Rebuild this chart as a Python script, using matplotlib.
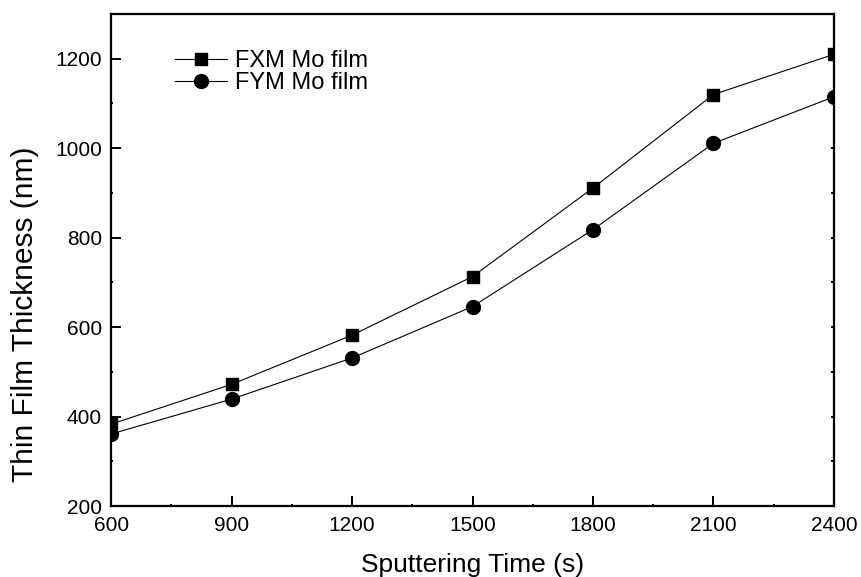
import matplotlib
matplotlib.use('Agg')
import matplotlib.pyplot as plt
from matplotlib.ticker import MultipleLocator

plt.rcParams['font.family'] = ['Liberation Sans', 'DejaVu Sans']

sputter_time = [600, 900, 1200, 1500, 1800, 2100, 2400]
fxm_thickness = [383, 472, 582, 713, 911, 1120, 1210]
fym_thickness = [361, 439, 531, 646, 818, 1011, 1115]

fig = plt.figure(figsize=(8.61, 5.77), dpi=100)
ax = fig.add_axes([0.129, 0.123, 0.8396, 0.8527])

ax.plot(sputter_time, fxm_thickness, color='black', lw=0.8, marker='s', ms=9,
        label='FXM Mo film')
ax.plot(sputter_time, fym_thickness, color='black', lw=0.8, marker='o', ms=10,
        label='FYM Mo film')

ax.set_xlim(600, 2400)
ax.set_ylim(200, 1300)
ax.xaxis.set_major_locator(MultipleLocator(300))
ax.xaxis.set_minor_locator(MultipleLocator(150))
ax.yaxis.set_major_locator(MultipleLocator(200))
ax.yaxis.set_minor_locator(MultipleLocator(100))

# inward ticks on left/bottom, only tiny marks on the right
ax.tick_params(which='both', direction='in', labelsize=15, width=1.4, top=False)
ax.tick_params(which='major', length=7.2)
ax.tick_params(which='minor', length=1.5)
ax.tick_params(axis='x', which='major', pad=7)
ax.tick_params(axis='y', which='major', pad=6.5)
ax.tick_params(axis='y', which='both', right=True)
for t in ax.yaxis.get_major_ticks() + ax.yaxis.get_minor_ticks():
    t.tick2line.set_markersize(2)
    t.tick2line.set_markeredgewidth(1.4)
for s in ax.spines.values():
    s.set_linewidth(1.6)

ax.set_xlabel('Sputtering Time (s)', fontsize=19, labelpad=13)
ax.set_ylabel('Thin Film Thickness (nm)', fontsize=21.5)
ax.yaxis.set_label_coords(-0.10, 0.39)

ax.legend(loc='upper left', bbox_to_anchor=(0.0885, 0.926), frameon=False,
          fontsize=17, handlelength=2.2, handletextpad=0.34, labelspacing=0.0,
          borderpad=0, borderaxespad=0)

fig.savefig('out.png', dpi=100)
